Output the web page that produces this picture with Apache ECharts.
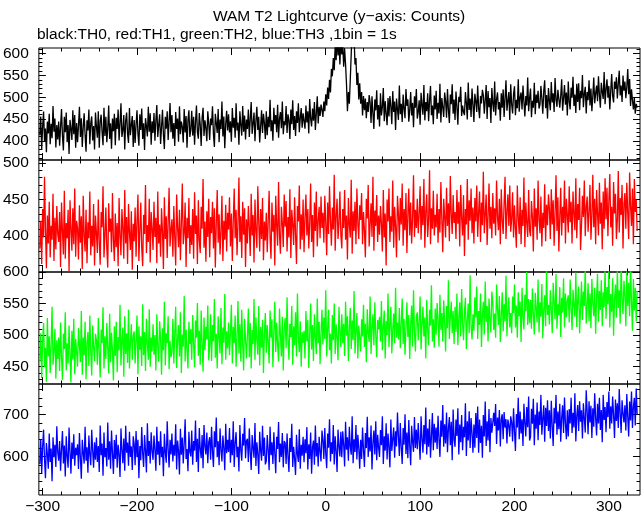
<!DOCTYPE html>
<html><head><meta charset="utf-8">
<script src="https://cdn.jsdelivr.net/npm/echarts@6/dist/echarts.min.js"></script>
<style>html,body{margin:0;padding:0;background:#fff}#c{width:643px;height:515px}</style>
</head><body><div id="c"></div>
<script>
const TITLE = 'WAM T2 Lightcurve (y\u2212axis: Counts)';
const SUBTITLE = 'black:TH0, red:TH1, green:TH2, blue:TH3 ,1bin = 1s';
const T_START = -303;           // time of the first 1 s bin
const X_MIN = -304, X_MAX = 333;
const X_MAJOR = [-300,-200,-100,0,100,200,300];
const X_MINOR = [-280,-260,-240,-220,-180,-160,-140,-120,-80,-60,-40,-20,20,40,60,80,120,140,160,180,220,240,260,280,320];

const Y_RANGES = [[356,613],[351,504],[422.5,600],[508,773]];
const Y_MAJOR = [[400,450,500,550,600],[400,450,500],[450,500,550,600],[600,700]];
const Y_MINOR = [
  [360,370,380,390,410,420,430,440,460,470,480,490,510,520,530,540,560,570,580,590,610],
  [360,370,380,390,410,420,430,440,460,470,480,490],
  [430,440,460,470,480,490,510,520,530,540,560,570,580,590],
  [520,540,560,580,620,640,660,680,720,740,760]
];

const TH0 = [
413,456,380,433,467,398,428,374,444,417,462,392,439,406,480,421,451,385,436,403,
444,389,432,473,411,378,455,420,465,397,436,370,448,428,402,470,415,459,384,441,
397,436,478,409,452,386,431,463,413,375,447,424,472,392,440,456,401,434,380,465,
433,407,468,384,444,460,419,390,476,411,455,397,429,481,404,440,382,451,422,462,
390,453,427,472,401,440,486,409,424,459,380,446,465,416,395,475,413,437,457,386,
448,395,437,470,416,389,461,425,474,404,440,379,452,433,410,478,421,463,391,445,
418,464,400,447,482,409,436,461,393,431,471,414,381,455,428,468,402,443,487,420,
459,405,441,388,466,427,451,398,479,415,444,432,396,473,419,457,384,448,470,409,
426,469,412,455,391,443,481,420,405,464,437,388,453,476,411,447,429,399,468,440,
402,451,436,479,415,386,462,441,418,473,397,449,427,490,410,456,383,438,469,424,
461,419,445,398,475,430,453,407,486,424,442,391,468,437,412,480,421,458,403,449,
427,472,409,450,489,416,440,465,399,446,478,425,455,396,434,470,418,462,441,404,
468,413,455,431,494,422,447,400,476,438,459,420,483,407,451,466,429,490,415,445,
436,480,418,461,447,404,472,438,493,425,457,411,468,441,486,420,452,475,430,463,
459,428,481,442,468,417,496,451,433,474,446,489,425,463,502,440,478,457,483,471,
455,490,468,507,481,522,496,540,511,565,548,590,562,618,585,640,596,628,575,635,
598,622,570,611,575,530,468,512,485,540,600,655,615,640,575,590,528,556,495,532,
485,512,458,503,470,497,452,489,466,505,
488,441,502,463,427,495,470,516,449,482,433,509,458,477,521,445,491,462,436,498,
456,503,479,438,514,466,490,425,497,472,448,527,461,485,443,506,474,452,519,480,
495,444,471,512,458,487,431,502,476,519,451,466,493,437,510,482,460,528,447,489,
468,509,445,493,526,459,481,438,504,472,515,450,487,463,531,442,498,477,455,511,
492,453,519,470,441,506,484,530,462,495,448,513,478,437,501,489,524,457,481,466,
459,512,487,449,534,471,497,455,520,483,443,508,491,466,527,475,452,503,486,517,
505,462,493,528,450,514,477,498,441,521,486,467,536,458,495,511,472,489,446,509,
476,518,455,497,539,469,491,512,448,530,484,463,507,525,459,494,475,541,467,500,
511,472,527,490,456,503,481,545,468,498,520,454,492,476,533,461,506,487,515,474,
483,526,497,462,514,539,475,505,451,521,492,470,535,488,509,466,544,495,478,517,
518,476,503,541,469,497,528,483,511,458,536,490,472,522,499,547,480,506,464,531,
489,532,470,515,498,551,477,508,524,463,512,493,539,481,520,468,502,545,486,509,
527,491,548,505,476,533,512,496,558,484,519,541,499,526,472,515,553,503,488,536,
519,546,497,531,561,504,527,489,550,515,536,498,523,565,507,542,480,518,494,472,
499,462,485,476
];

const TH1 = [
383,421,362,437,398,481,409,356,428,390,447,371,414,395,458,366,425,382,441,403,
392,433,358,446,407,375,462,369,418,397,436,352,449,410,380,438,389,465,372,421,
411,368,442,391,427,355,455,402,379,436,363,419,397,461,374,414,386,444,360,428,
404,377,450,392,361,433,412,468,371,401,439,383,357,445,406,424,378,459,395,366,
431,385,418,359,452,400,374,437,411,369,463,390,426,362,444,405,381,434,354,417,
393,439,372,421,457,366,408,446,384,359,429,403,470,377,415,392,451,364,433,410,
381,447,399,425,363,461,390,416,372,438,406,355,453,396,427,370,419,466,386,409,
423,372,441,398,360,457,411,385,436,367,417,472,389,404,446,358,425,397,452,376,
415,388,437,369,460,403,428,362,449,394,377,440,410,478,384,420,365,434,399,451,
371,426,404,447,383,438,357,418,463,391,430,375,407,455,366,421,395,443,379,432,
409,453,386,431,366,421,465,397,436,374,417,480,392,427,370,447,402,438,358,423,
390,441,412,373,458,401,429,364,450,407,384,468,419,379,437,396,452,367,420,394,
432,378,420,462,397,369,446,406,429,360,455,414,387,474,401,376,440,418,385,457,
413,448,379,426,398,464,370,436,416,388,453,402,362,441,420,469,382,430,395,450,
378,425,457,401,437,383,418,472,392,429,371,446,407,461,386,421,440,397,454,411,
432,391,455,418,374,446,403,468,421,387,439,409,484,380,428,451,396,417,461,402,
383,437,411,463,395,428,368,452,416,398,477,376,434,407,447,389,465,418,396,442,
422,459,389,433,408,371,451,424,470,386,416,445,399,481,380,435,414,456,392,428,
402,441,417,379,463,398,431,360,450,420,465,392,427,406,476,384,440,413,371,455,
431,394,452,416,472,387,437,408,459,377,429,465,401,446,390,423,483,399,436,411,
451,404,430,468,395,441,415,478,384,433,457,399,422,490,389,438,410,462,401,429,
412,458,391,437,405,474,423,378,451,426,398,466,414,445,393,482,430,403,456,418,
433,396,463,417,447,386,470,424,401,456,373,437,416,478,395,449,421,465,404,439,
390,452,420,469,399,433,461,392,446,415,488,404,429,457,388,427,472,410,440,397,
459,417,438,401,476,426,408,451,389,464,422,403,445,481,396,433,457,414,469,406,
423,460,398,442,411,384,469,425,403,453,389,436,414,480,385,446,418,399,463,407,
400,448,426,379,465,413,438,395,476,422,404,454,386,432,411,471,393,443,415,457,
437,396,464,416,449,387,432,483,407,453,379,426,466,401,440,418,476,390,451,429,
405,468,419,447,390,461,431,408,479,397,444,422,466,381,414,455,426,476,400,440,
454,406,434,470,395,427,484,412,451,389,463,430,401,473,417,446,382,461,410,479,
423,466,400,448,485,412,440,387,474,431,458,396,422,489,405,452,429,470,383,444,
459,410,473,432,396,487,441,414,465,389,478,433,450,407
];

const TH2 = [
458,503,432,491,519,449,480,426,527,466,498,440,486,545,453,475,510,431,492,462,
496,443,520,465,429,502,478,536,444,487,455,515,470,425,507,461,526,438,494,473,
450,511,484,457,538,437,496,468,521,430,489,505,451,531,474,436,515,481,459,502,
492,453,527,471,433,509,487,544,447,498,462,519,478,439,534,457,504,476,428,514,
467,521,441,497,476,548,452,490,512,434,530,470,503,456,540,447,488,517,461,499,
506,455,492,531,438,514,477,498,451,549,468,505,443,526,485,461,541,450,496,474,
517,469,500,444,533,482,458,522,494,437,511,476,553,452,503,487,530,446,491,465,
473,526,455,503,545,448,493,516,466,536,440,501,482,562,458,509,477,447,521,486,
510,461,532,485,449,523,496,551,467,507,453,539,488,442,528,476,513,493,547,460,
483,533,459,516,490,557,464,502,447,530,496,471,543,454,512,488,565,461,506,479,
520,468,503,548,455,513,487,531,450,497,554,471,517,458,540,484,444,526,493,463,
500,542,465,519,447,508,486,557,461,528,492,469,546,452,513,480,524,440,502,535,
472,516,490,455,539,496,525,449,507,553,473,520,485,458,542,499,466,529,444,511,
527,479,560,493,461,518,497,546,453,514,484,536,466,566,495,473,522,450,505,488,
507,463,538,490,524,448,501,550,477,516,459,533,496,470,558,487,521,454,503,540,
485,528,494,571,466,510,540,476,502,455,532,492,550,470,517,497,460,545,506,481,
533,487,518,467,553,499,530,459,511,543,478,523,492,570,471,507,535,463,515,496,
474,525,498,548,481,518,457,541,503,489,561,470,512,533,484,552,500,465,524,509,
529,490,554,476,513,539,463,522,500,566,481,517,545,471,509,534,487,575,496,520,
493,543,479,519,558,486,526,469,510,552,497,532,462,518,547,482,571,505,474,530,
536,492,522,561,477,516,545,498,528,463,556,509,484,540,515,579,490,525,480,542,
501,551,523,482,564,508,535,490,555,520,474,546,511,587,494,528,553,503,538,486,
545,505,566,484,527,552,498,573,518,492,537,559,478,524,550,503,595,514,493,533,
507,560,528,577,494,538,516,566,481,532,553,501,585,521,546,490,558,525,504,569,
552,508,534,496,580,541,516,562,489,530,568,506,549,522,594,498,537,560,512,535,
503,561,535,580,512,547,496,568,530,553,489,575,527,509,564,538,600,516,557,519,
556,510,574,533,501,567,541,520,588,504,552,529,581,495,540,563,514,605,532,548,
517,571,540,503,583,552,525,597,510,549,531,576,497,559,536,590,512,566,528,555,
563,520,588,542,508,572,548,529,599,513,556,577,503,543,585,524,569,546,610,518,
545,582,522,566,511,589,550,530,575,502,560,597,521,570,540,587,514,568,544,604,
526,576,549,606,512,565,537,590,499,556,580,528,603,543,571,518,612,557,533,586,
563,514,601,546,583,530,614,552,507,589,539,575,521,570
];

const TH3 = [
582,641,560,623,664,593,548,632,606,571,655,587,619,541,646,598,628,575,672,610,
590,637,566,617,661,583,626,552,648,600,573,669,611,559,633,594,653,578,621,603,
629,570,656,597,547,640,608,583,671,590,622,561,650,604,579,664,615,573,634,592,
645,587,625,563,674,603,631,554,657,598,620,576,681,592,636,571,662,609,558,639,
594,652,573,628,605,551,667,616,584,643,566,673,609,633,578,659,599,624,568,648,
630,579,661,598,640,548,625,591,670,608,575,651,614,562,679,601,637,583,658,612,
592,650,615,566,671,604,636,579,660,598,623,553,654,610,585,684,617,574,640,605,
655,588,628,602,677,569,638,613,557,666,604,645,583,631,689,594,618,565,659,611,
600,662,580,637,614,686,587,642,563,668,618,596,651,572,675,625,605,657,584,634,
646,592,671,611,575,660,622,693,598,636,579,667,615,588,650,620,567,678,608,640,
611,668,585,640,603,684,575,632,658,598,623,564,675,615,590,654,626,692,596,637,
642,587,667,610,568,651,620,597,680,577,634,606,558,659,614,590,673,601,645,581,
589,651,616,567,671,603,634,582,658,608,560,647,618,682,586,631,599,656,574,637,
632,582,655,600,563,644,611,678,575,623,595,556,652,605,587,665,571,628,602,647,
586,641,608,670,569,629,594,657,559,623,638,580,674,600,632,576,647,612,588,662,
640,594,668,607,572,655,621,689,588,634,606,675,581,648,613,563,664,625,600,659,
598,660,627,576,683,616,646,590,671,623,604,696,584,641,611,675,593,652,620,571,
640,594,669,615,575,656,620,695,599,646,612,674,569,633,662,605,684,591,652,621,
599,663,627,696,582,648,614,679,593,655,622,574,688,613,642,669,597,660,624,705,
649,601,680,622,582,668,628,701,606,657,596,687,625,579,673,636,611,694,620,664,
617,680,636,592,696,642,609,675,629,717,605,667,623,689,597,648,704,615,678,633,
669,618,697,641,599,686,647,723,623,677,631,705,610,668,694,627,683,591,712,640,
623,688,649,715,605,676,634,699,615,671,646,727,601,684,638,708,620,692,656,609,
676,621,704,644,719,609,688,632,673,597,699,648,731,625,684,638,713,610,692,657,
653,704,673,725,630,693,662,711,624,690,701,641,706,669,689,631,688,675,647,696,
682,636,715,661,613,701,669,740,641,707,655,689,625,726,680,648,718,670,743,638,
647,714,678,738,627,700,666,729,639,707,675,747,652,691,722,635,716,673,734,661,
710,643,733,672,625,716,679,747,652,707,665,726,635,693,722,656,741,678,641,710,
648,713,679,740,656,704,669,751,636,697,723,661,732,683,710,643,727,690,657,758,
708,653,732,681,721,644,715,671,751,692,650,726,679,740,663,711,634,747,687,718,
658,730,694,755,666,720,679,743,699,644,736,685,727,668,761,703,656,734,702,681,
722,662,749,695,648,731,686,755,668,718,740,674,762,700
];

const SERIES_DATA = [TH0, TH1, TH2, TH3];
const SERIES_NAMES = ['TH0','TH1','TH2','TH3'];
const COLORS = ['#000000','#ff0000','#00ff00','#0000ff'];

const FONT = 'Liberation Sans';
const TOPS = [48,160,272,384];
const fmt = v => String(v).replace('-', '\u2212');

const grids=[], xAxes=[], yAxes=[], series=[];
for (let g=0; g<4; g++){
  grids.push({left:37, top:TOPS[g], width:603, height:112, show:true, borderColor:'#000', borderWidth:1, backgroundColor:'rgba(0,0,0,0)'});
  const xb = {gridIndex:g, type:'value', min:X_MIN, max:X_MAX, axisLine:{show:false, onZero:false}, splitLine:{show:false}};
  for (const pos of ['bottom','top']) {
    xAxes.push(Object.assign({}, xb, {position:pos,
      axisTick:{show:true, inside:true, length:7, customValues:X_MAJOR, lineStyle:{color:'#000', width:1}},
      axisLabel:{show:(g===3 && pos==='bottom'), customValues:X_MAJOR, formatter:fmt, color:'#000', fontSize:15.5, fontFamily:FONT, margin:4}}));
    xAxes.push(Object.assign({}, xb, {position:pos,
      axisTick:{show:true, inside:true, length:3.5, customValues:X_MINOR, lineStyle:{color:'#000', width:1}},
      axisLabel:{show:false}}));
  }
  const yb = {gridIndex:g, type:'value', min:Y_RANGES[g][0], max:Y_RANGES[g][1], axisLine:{show:false, onZero:false}, splitLine:{show:false}};
  for (const pos of ['left','right']) {
    yAxes.push(Object.assign({}, yb, {position:pos,
      axisTick:{show:true, inside:true, length:7, customValues:Y_MAJOR[g], lineStyle:{color:'#000', width:1}},
      axisLabel:{show:(pos==='left'), customValues:Y_MAJOR[g], color:'#000', fontSize:15.5, fontFamily:FONT, margin:10}}));
    yAxes.push(Object.assign({}, yb, {position:pos,
      axisTick:{show:true, inside:true, length:3.5, customValues:Y_MINOR[g], lineStyle:{color:'#000', width:1}},
      axisLabel:{show:false}}));
  }
  series.push({
    type:'line', name:SERIES_NAMES[g], xAxisIndex:g*4, yAxisIndex:g*4,
    data: SERIES_DATA[g].map((v,i)=>[T_START+i, v]),
    showSymbol:false, symbol:'none', clip:true, animation:false,
    lineStyle:{color:COLORS[g], width:1.3}, itemStyle:{color:COLORS[g]}
  });
}

const chart = echarts.init(document.getElementById('c'), null, {renderer:'canvas'});
chart.setOption({
  animation:false,
  backgroundColor:'#ffffff',
  grid:grids, xAxis:xAxes, yAxis:yAxes, series:series,
  graphic:[
    {type:'text', x:339, y:17, style:{text:TITLE, align:'center', verticalAlign:'middle', fontSize:15.5, fontFamily:FONT, fill:'#000'}},
    {type:'text', x:37, y:35, style:{text:SUBTITLE, align:'left', verticalAlign:'middle', fontSize:15.5, fontFamily:FONT, fill:'#000'}}
  ]
});
</script>
</body></html>
